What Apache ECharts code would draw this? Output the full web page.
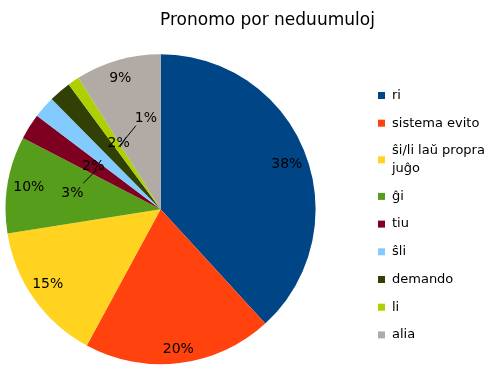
<!DOCTYPE html>
<html><head><meta charset="utf-8">
<script src="https://cdn.jsdelivr.net/npm/echarts@6/dist/echarts.min.js"></script>
<style>html,body{margin:0;padding:0;background:#fff}#c{width:490px;height:374px}</style>
</head><body><div id="c"></div>
<script>
const chartTitle = 'Pronomo por neduumuloj';
const categories = ['ri','sistema evito','ŝi/li laŭ propra juĝo','ĝi','tiu','ŝli','demando','li','alia'];
const values = [38.2, 19.7, 14.6, 10.1, 2.7, 2.3, 2.3, 1.2, 8.9];
const colors = ['#004586','#ff420e','#ffd320','#579d1c','#7e0021','#83caff','#314004','#aecf00','#b2aba5'];
const legendText = { 'ŝi/li laŭ propra juĝo': 'ŝi/li laŭ propra\njuĝo' };
const ringLabelled = ['ri','sistema evito','ŝi/li laŭ propra juĝo','ĝi','alia'];
const innerLabelled = ['ŝli','demando'];
const leaderLabelled = ['tiu','li'];

const FONT = 'DejaVu Sans';
const CENTER = [160.6, 209.2];
const ringShift = { 'ri': [-1.5, 5], 'sistema evito': [1, 4], 'ŝi/li laŭ propra juĝo': [-1, -3.5], 'ĝi': [3.5, 0], 'alia': [-2.5, 1] };
const innerShift = { 'ŝli': [-7, 10], 'demando': [10, -5.5] };
const leaderShift = {
  'tiu': { label: [-24.7, 24], line: [-13.9, 14.1] },
  'li':  { label: [27.5, -28.5], line: [17.5, -21.5] }
};
const pct = p => Math.round(p.percent) + '%';
const labelFont = { color: '#000', fontFamily: FONT, fontSize: 14, textBorderWidth: 0 };
const clear = 'rgba(0,0,0,0)';

function items(showList, transparent) {
  return categories.map((n, i) => ({
    name: n, value: values[i],
    itemStyle: { color: transparent ? clear : colors[i] },
    label: { show: showList ? showList.indexOf(n) >= 0 : false },
    labelLine: { show: showList ? showList.indexOf(n) >= 0 : false }
  }));
}

const chart = echarts.init(document.getElementById('c'));
chart.setOption({
  animation: false,
  backgroundColor: '#fff',
  title: {
    text: chartTitle, left: 160, top: 12, padding: 0,
    textStyle: { fontFamily: FONT, fontSize: 17, fontWeight: 'normal', color: '#000' }
  },
  legend: {
    orient: 'vertical', left: 378, top: 86.6, padding: 0,
    itemWidth: 7, itemHeight: 7, itemGap: 9.9, icon: 'rect',
    selectedMode: false,
    formatter: name => legendText[name] || name,
    textStyle: { fontFamily: FONT, fontSize: 13, color: '#000', lineHeight: 17.8,
      padding: [0, 0, 0, 2] },
    data: categories.map(n => legendText[n]
      ? { name: n, textStyle: { padding: [8.9, 0, -8.9, 2] } } : n)
  },
  series: [
    {
      type: 'pie', center: CENTER, radius: 155, startAngle: 90, clockwise: true,
      silent: true, emphasis: { disabled: true },
      label: { show: false }, labelLine: { show: false },
      itemStyle: { borderWidth: 0 },
      data: items(null, false)
    },
    {
      type: 'pie', center: CENTER, radius: [113, 155], startAngle: 90, clockwise: true,
      silent: true, emphasis: { disabled: true }, legendHoverLink: false,
      avoidLabelOverlap: false, z: 3,
      label: Object.assign({ position: 'inside', formatter: pct }, labelFont),
      labelLine: { show: false },
      data: items(ringLabelled, true).map(d => (d.labelLine.show = false, d)),
      labelLayout: function (p) {
        const s = ringShift[categories[p.dataIndex]];
        return s ? { dx: s[0], dy: s[1] } : {};
      }
    },
    {
      type: 'pie', center: CENTER, radius: [0, 154], startAngle: 90, clockwise: true,
      silent: true, emphasis: { disabled: true }, legendHoverLink: false,
      avoidLabelOverlap: false, z: 3,
      label: Object.assign({ position: 'inside', formatter: pct }, labelFont),
      labelLine: { show: false },
      data: items(innerLabelled, true).map(d => (d.labelLine.show = false, d)),
      labelLayout: function (p) {
        const s = innerShift[categories[p.dataIndex]];
        return s ? { dx: s[0], dy: s[1] } : {};
      }
    },
    {
      type: 'pie', center: CENTER, radius: 75, startAngle: 90, clockwise: true,
      silent: true, emphasis: { disabled: true }, legendHoverLink: false,
      avoidLabelOverlap: false, z: 4,
      label: Object.assign({ position: 'outside', formatter: pct }, labelFont),
      labelLine: { length: 10, length2: 0, showAbove: true, lineStyle: { color: '#000', width: 1, opacity: 1 } },
      data: items(leaderLabelled, true),
      labelLayout: function (p) {
        const s = leaderShift[categories[p.dataIndex]];
        if (!s || !p.labelLinePoints) return {};
        const a = p.labelLinePoints[0];
        return {
          x: a[0] + s.label[0], y: a[1] + s.label[1],
          align: 'center', verticalAlign: 'middle',
          labelLinePoints: [[a[0], a[1]], [a[0] + s.line[0], a[1] + s.line[1]]]
        };
      }
    }
  ]
});
</script>
</body></html>
